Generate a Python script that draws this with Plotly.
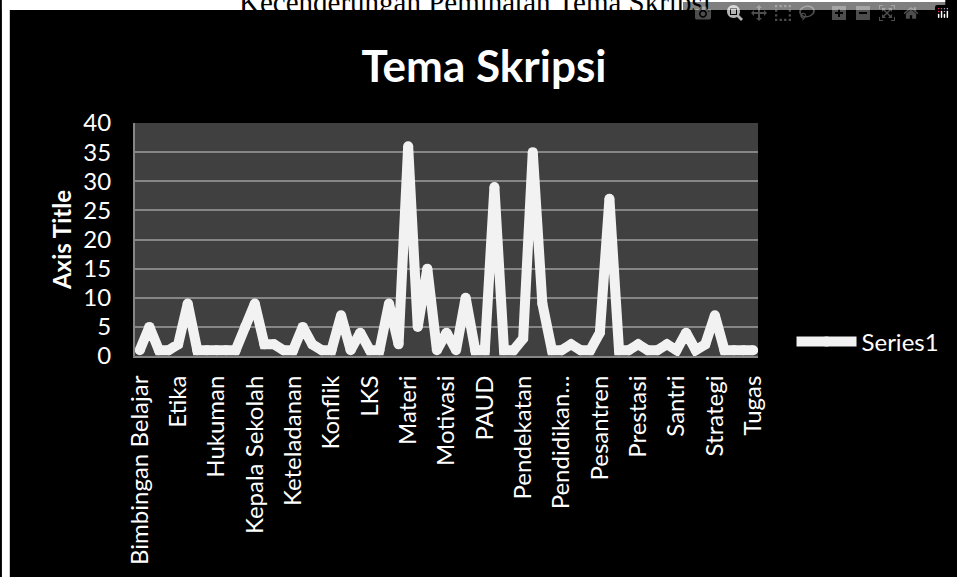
import plotly.graph_objects as go

# ---- data ----
tick_labels = ["Bimbingan Belajar", "Etika", "Hukuman", "Kepala Sekolah", "Keteladanan",
               "Konflik", "LKS", "Materi", "Motivasi", "PAUD", "Pendekatan",
               "Pendidikan…", "Pesantren", "Prestasi", "Santri", "Strategi", "Tugas"]
series1 = [1, 5, 1, 1, 2, 9, 1, 1, 1, 1, 1, 5, 9, 2, 2, 1, 1, 5, 2, 1,
           1, 7, 1, 4, 1, 1, 9, 2, 36, 5, 15, 1, 4, 1, 10, 1, 1, 29, 1, 1,
           3, 35, 9, 1, 1, 2, 1, 1, 4, 27, 1, 1, 2, 1, 1, 2, 1, 4, 1, 2,
           7, 1, 1, 1, 1]
x_idx = list(range(len(series1)))
tick_idx = x_idx[::4]

W, H = 957, 577
L, R, T, B = 135, 957 - 767, 123, 577 - 356
pw, ph = W - L - R, H - T - B

def px_x(p):
    return (p - L) / pw

def px_y(p):
    return (H - B - p) / ph

FONT = "Lato"

fig = go.Figure()
fig.add_trace(go.Scatter(
    x=x_idx, y=series1, mode="lines+markers", name="Series1",
    line=dict(color="#f2f2f2", width=10),
    marker=dict(color="#f2f2f2", size=10, line=dict(width=0)),
))

fig.update_layout(
    width=W, height=H,
    margin=dict(l=L, r=R, t=T, b=B),
    paper_bgcolor="black",
    plot_bgcolor="#404040",
    font=dict(family=FONT, color="white", size=24),
    title=dict(text="<b>Tema Skripsi</b>", xref="paper", x=px_x(489), xanchor="center",
               y=1 - 67 / H, yanchor="middle",
               font=dict(family=FONT, size=44, color="white")),
    xaxis=dict(range=[-0.5, len(series1) - 0.5], tickmode="array",
               tickvals=tick_idx, ticktext=tick_labels, tickangle=-90,
               showgrid=False, showline=True, linecolor="#868686", linewidth=2,
               ticks="", zeroline=False, ticklabelstandoff=8,
               tickfont=dict(size=24, color="white")),
    yaxis=dict(range=[0, 40], dtick=5, showgrid=True, gridcolor="#868686",
               gridwidth=2, showline=True, linecolor="#868686", linewidth=2,
               zeroline=False, ticks="", ticklabelstandoff=17,
               tickfont=dict(size=24, color="white")),
    legend=dict(x=px_x(801), y=px_y(342), xanchor="left", yanchor="middle",
                bgcolor="rgba(0,0,0,0)", font=dict(size=24, color="white"),
                itemwidth=60, tracegroupgap=0),
    showlegend=True,
)

# white page strips left of and above the black chart frame
fig.add_shape(type="rect", xref="paper", yref="paper", layer="below",
              x0=px_x(0), x1=px_x(8), y0=px_y(H), y1=px_y(0),
              fillcolor="white", line=dict(width=0))
fig.add_shape(type="rect", xref="paper", yref="paper", layer="below",
              x0=px_x(0), x1=px_x(W), y0=px_y(10), y1=px_y(0),
              fillcolor="white", line=dict(width=0))

# y axis title
fig.add_annotation(text="<b>Axis Title</b>", xref="paper", yref="paper",
                   x=px_x(60), y=px_y(240), xanchor="center", yanchor="middle",
                   textangle=-90, showarrow=False,
                   font=dict(family=FONT, size=24, color="white"))

# document heading, cut by the top edge
fig.add_annotation(text="Kecenderungan Peminatan Tema Skripsi", xref="paper", yref="paper",
                   x=px_x(480), y=px_y(20), xanchor="center", yanchor="bottom",
                   showarrow=False,
                   font=dict(family="Liberation Serif", size=29, color="black"))

fig.write_html("out.html",
               post_script="document.body.style.margin='0';document.body.style.overflow='hidden';")
